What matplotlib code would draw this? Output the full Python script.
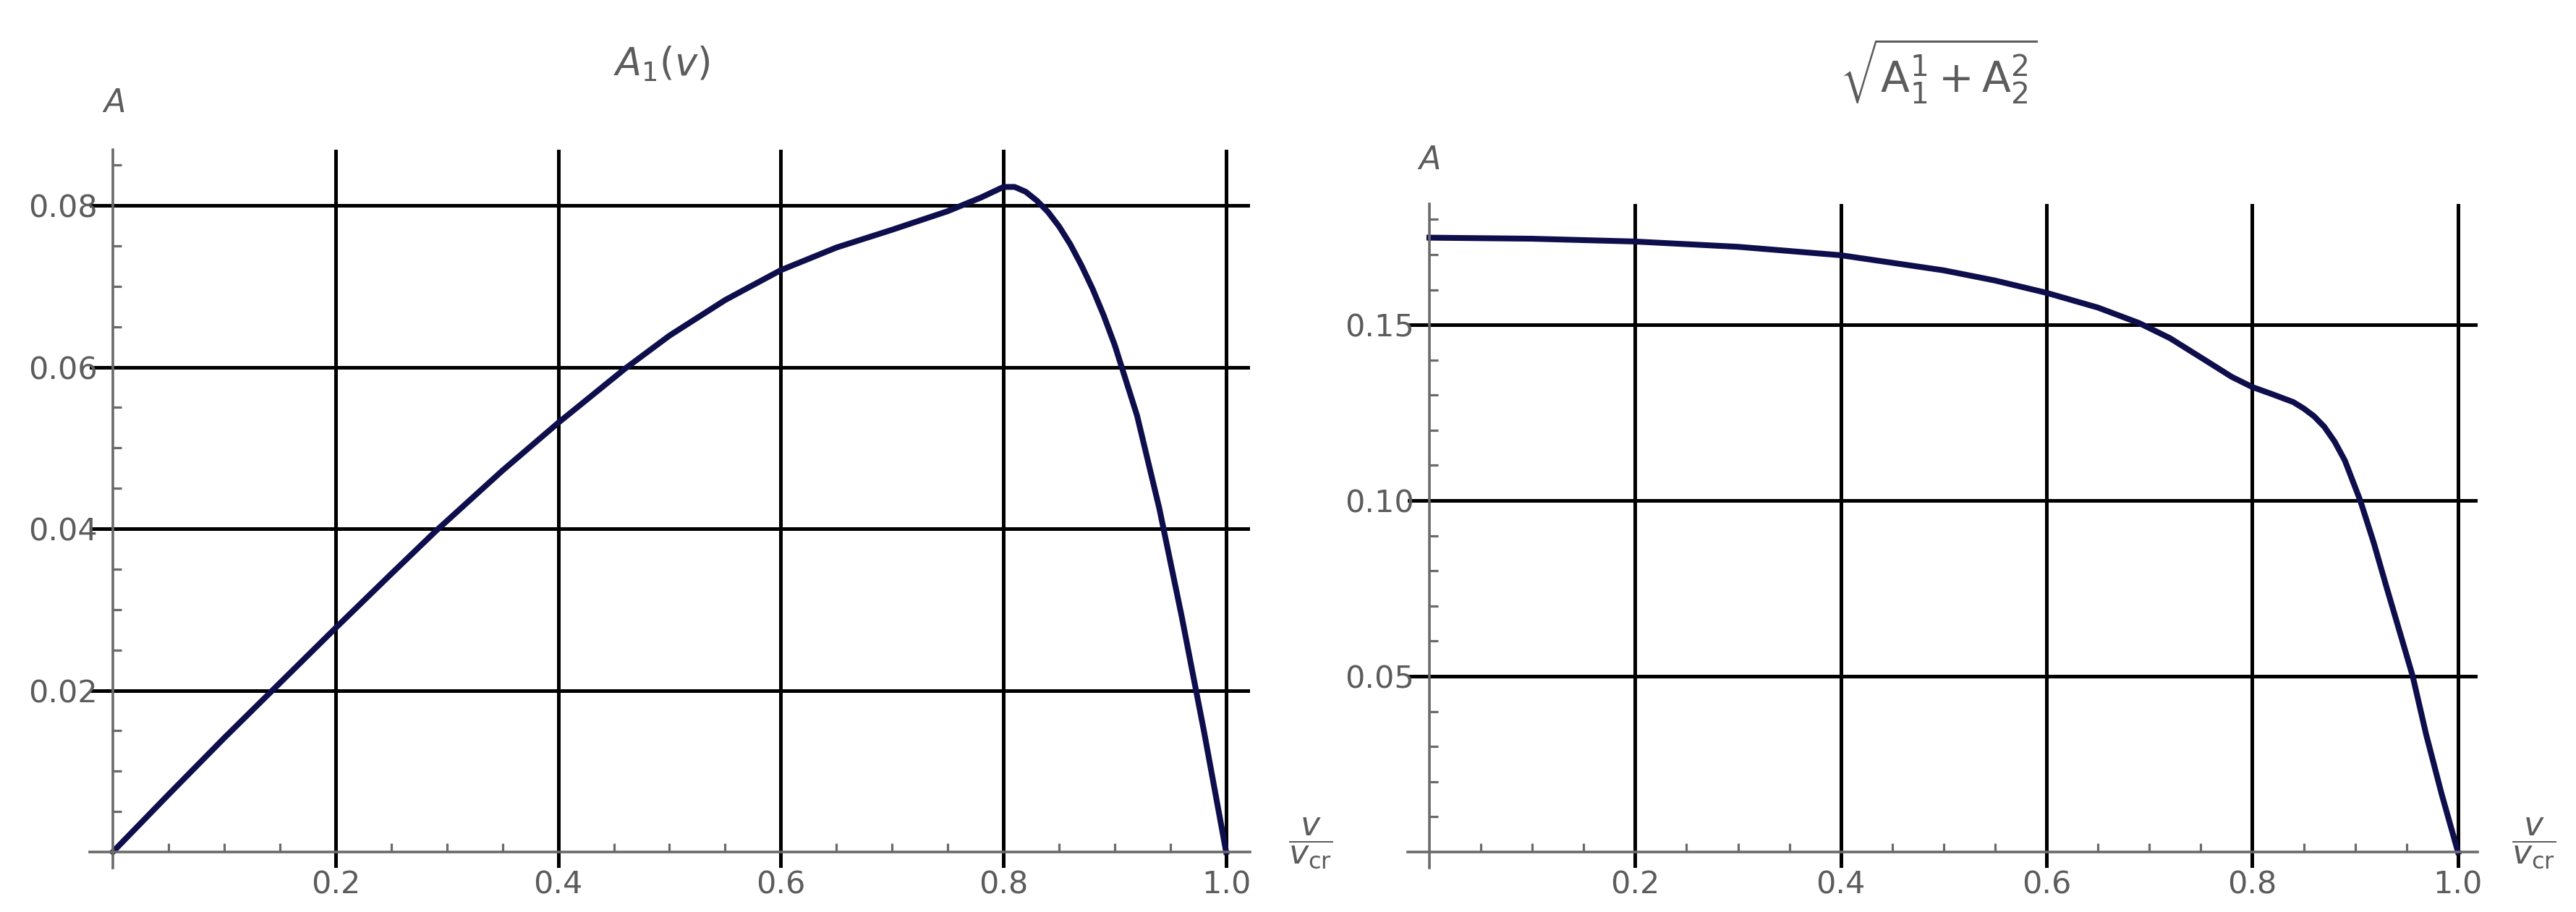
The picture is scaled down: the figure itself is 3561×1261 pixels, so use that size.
import numpy as np
import matplotlib.pyplot as plt
from matplotlib.ticker import FixedLocator, FixedFormatter

# A1(v) curve
v_left = [0.0, 0.05, 0.10, 0.15, 0.20, 0.25, 0.29, 0.35, 0.40, 0.46, 0.50, 0.55,
          0.60, 0.65, 0.70, 0.75, 0.78, 0.80, 0.81, 0.82, 0.83, 0.84, 0.85, 0.86,
          0.87, 0.88, 0.89, 0.90, 0.92, 0.94, 0.96, 0.98, 1.0]
a_left = [0.0, 0.0071, 0.0141, 0.0209, 0.0277, 0.0344, 0.0397, 0.0472, 0.0531, 0.0598,
          0.0639, 0.0683, 0.0720, 0.0748, 0.0770, 0.0793, 0.0810, 0.0823, 0.0823,
          0.0817, 0.0806, 0.0792, 0.0774, 0.0752, 0.0726, 0.0697, 0.0664, 0.0627,
          0.0540, 0.0425, 0.0292, 0.0150, 0.0]

# sqrt(A1^1 + A2^2) curve, right panel
v_right = [0.0, 0.10, 0.20, 0.30, 0.40, 0.50, 0.55, 0.60, 0.65, 0.69, 0.72, 0.755,
           0.78, 0.80, 0.82, 0.84, 0.85, 0.86, 0.87, 0.88, 0.89, 0.905, 0.918, 0.931,
           0.946, 0.956, 0.969, 0.984, 1.0]
a_right = [0.1748, 0.1745, 0.1737, 0.1722, 0.1698, 0.1655, 0.1626, 0.1591, 0.1549,
           0.1505, 0.1462, 0.1398, 0.1352, 0.1323, 0.1302, 0.1280, 0.1262, 0.1240,
           0.1210, 0.1168, 0.1114, 0.1000, 0.0881, 0.0749, 0.0600, 0.0500, 0.0335,
           0.0166, 0.0]

left_yticks = [0.02, 0.04, 0.06, 0.08]
left_ylabels = ['0.02', '0.04', '0.06', '0.08']
right_yticks = [0.05, 0.10, 0.15]
right_ylabels = ['0.05', '0.10', '0.15']
xticks = [0.2, 0.4, 0.6, 0.8, 1.0]
xlabels = ['0.2', '0.4', '0.6', '0.8', '1.0']

gray = '#6a6a6a'
txt = '#5c5c5c'
navy = '#0e0e4c'

plt.rcParams['font.family'] = 'DejaVu Sans'
plt.rcParams['mathtext.fontset'] = 'dejavusans'

fig = plt.figure(figsize=(35.62, 12.61), dpi=100)
ax1 = fig.add_axes([0.0348, 0.0484, 0.4503, 0.7874])
ax2 = fig.add_axes([0.5463, 0.0484, 0.4152, 0.7280])


def style(ax, yticks, ylabels, yminor, xlim, ylim):
    ax.set_xlim(*xlim)
    ax.set_ylim(*ylim)
    for s in ['top', 'right']:
        ax.spines[s].set_visible(False)
    for s in ['left', 'bottom']:
        ax.spines[s].set_position(('data', 0))
        ax.spines[s].set_color(gray)
        ax.spines[s].set_linewidth(2.6)
    ax.xaxis.set_major_locator(FixedLocator(xticks))
    ax.xaxis.set_major_formatter(FixedFormatter(xlabels))
    ax.yaxis.set_major_locator(FixedLocator(yticks))
    ax.yaxis.set_major_formatter(FixedFormatter(ylabels))
    xminor = [round(0.05 * i, 3) for i in range(1, 20) if i % 4 != 0]
    ax.xaxis.set_minor_locator(FixedLocator(xminor))
    ax.yaxis.set_minor_locator(FixedLocator(yminor))
    ax.tick_params(which='major', length=0, labelsize=31, labelcolor=txt)
    ax.tick_params(axis='x', which='major', pad=18)
    ax.tick_params(axis='y', which='major', pad=15)
    ax.tick_params(which='minor', direction='in', length=8.5, width=2.3, color=gray)
    ax.grid(True, which='major', color='k', linewidth=3.6)


left_minor = [round(0.005 * i, 4) for i in range(1, 18) if i % 4 != 0]
right_minor = [round(0.01 * i, 3) for i in range(1, 19) if i % 5 != 0]

style(ax1, left_yticks, left_ylabels, left_minor, (-0.0208, 1.0214), (-0.00197, 0.0869))
style(ax2, right_yticks, right_ylabels, right_minor, (-0.0211, 1.019), (-0.00453, 0.1844))

ax1.plot(v_left, a_left, color=navy, linewidth=5.8, solid_joinstyle='round')
ax2.plot(v_right, a_right, color=navy, linewidth=5.8, solid_joinstyle='round')

# titles and axis labels
fig.text(0.2569, 0.930, r'$A_1(v)$', fontsize=38, color=txt, ha='center', va='center')
fig.text(0.7524, 0.921, r'$\sqrt{\mathrm{A}_1^1+\mathrm{A}_2^2}$', fontsize=42,
         color=txt, ha='center', va='center')
fig.text(0.0441, 0.8866, r'$A$', fontsize=32, color=txt, ha='center', va='center')
fig.text(0.5545, 0.8240, r'$A$', fontsize=32, color=txt, ha='center', va='center')
fig.text(0.5087, 0.0753, r'$\dfrac{v}{v_{\mathrm{cr}}}$', fontsize=33, color=txt,
         ha='center', va='center')
fig.text(0.9832, 0.0753, r'$\dfrac{v}{v_{\mathrm{cr}}}$', fontsize=33, color=txt,
         ha='center', va='center')

plt.savefig('out.png', dpi=100)
